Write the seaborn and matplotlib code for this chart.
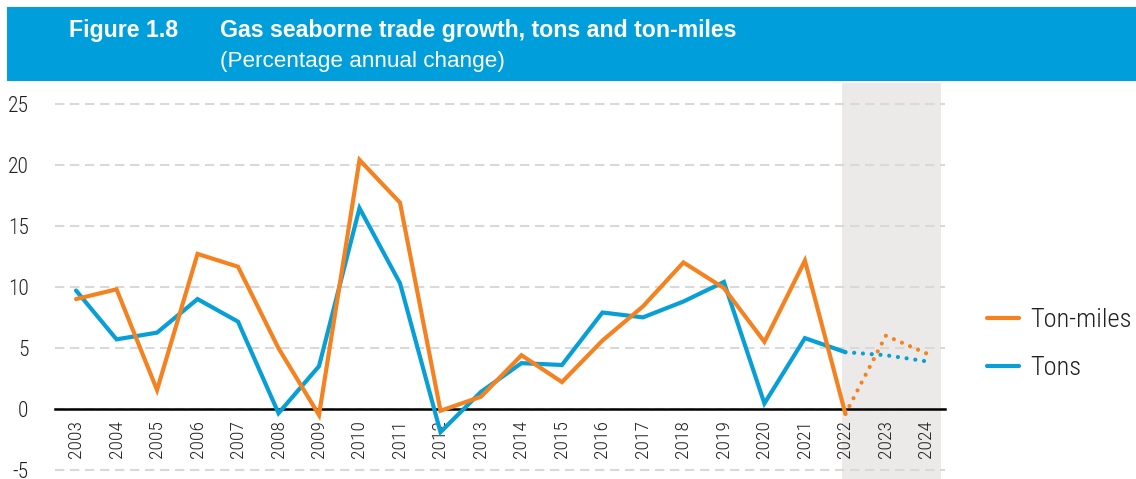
import matplotlib
matplotlib.use("Agg")
import matplotlib.pyplot as plt
import seaborn as sns
import pandas as pd
from matplotlib import font_manager
from matplotlib.lines import Line2D
from matplotlib.patches import Rectangle

# ---------------- data ----------------
years = list(range(2003, 2025))
year_labels = [str(y) for y in years]
tons = [9.7, 5.7, 6.25, 9.0, 7.15, -0.35, 3.5, 16.45, 10.3, -1.9, 1.4,
        3.75, 3.6, 7.9, 7.5, 8.8, 10.4, 0.45, 5.8, 4.65, 4.4, 3.9]
ton_miles = [9.0, 9.8, 1.55, 12.7, 11.65, 4.97, -0.5, 20.4, 16.9, -0.15, 1.0,
             4.4, 2.2, 5.6, 8.4, 12.0, 9.9, 5.5, 12.15, -0.4, 6.0, 4.55]
series_names = ["Ton-miles", "Tons"]
last_actual_year = 2022
y_ticks = [-5, 0, 5, 10, 15, 20, 25]
fig_label = "Figure 1.8"
title = "Gas seaborne trade growth, tons and ton-miles"
subtitle = "(Percentage annual change)"

ORANGE = "#F58220"
BLUE = "#079FD6"
BANNER = "#009EDB"
SHADE = "#EBEAE9"
TEXT = "#231F20"

sns.set_theme(style="white")
names = {f.name for f in font_manager.fontManager.ttflist}
cond = next((n for n in ["Roboto Condensed", "Liberation Sans Narrow", "Arial Narrow"] if n in names), None)
if cond:
    axis_font = cond
    ytick_size, xtick_size, leg_size = 15.5, 14, 19
else:
    axis_font = "Roboto"
    ytick_size, xtick_size, leg_size = 15, 12.5, 17
plt.rcParams["font.family"] = [axis_font, "DejaVu Sans"]
plt.rcParams["font.weight"] = "light"

W, H = 1136, 479
fig = plt.figure(figsize=(W / 100, H / 100), dpi=100)
fig.patch.set_facecolor("white")

# banner
fig.add_artist(Rectangle((7 / W, (H - 81) / H), 1 - 7 / W, 74 / H,
                         transform=fig.transFigure, facecolor=BANNER,
                         edgecolor="none", zorder=0))
fig.text(69 / W, 1 - 37 / H, fig_label, color="white", fontsize=16.7,
         fontweight="bold", family=["Liberation Sans", "DejaVu Sans"], va="baseline")
fig.text(220 / W, 1 - 37 / H, title, color="white", fontsize=16.7,
         fontweight="bold", family=["Liberation Sans", "DejaVu Sans"], va="baseline")
fig.text(220 / W, 1 - 67 / H, subtitle, color="white", fontsize=16.2,
         fontweight="normal", family=["Liberation Sans", "DejaVu Sans"], va="baseline")

ax = fig.add_axes([55 / W, 0, 890 / W, 396 / H])
ax.patch.set_alpha(0)

# spines first (set_position resets tick objects)
for s in ["top", "right", "left"]:
    ax.spines[s].set_visible(False)
ax.spines["bottom"].set_position(("data", 0))
ax.spines["bottom"].set_color("black")
ax.spines["bottom"].set_linewidth(1.8)
ax.spines["bottom"].set_zorder(1.5)

df = pd.DataFrame({"year": years, "Tons": tons, "Ton-miles": ton_miles})
hist = df[df["year"] <= last_actual_year]
proj = df[df["year"] >= last_actual_year]

LW = 3.0
dot_style = (0, (0.01, 2.1))
for name, col in [("Tons", BLUE), ("Ton-miles", ORANGE)]:
    sns.lineplot(data=hist, x="year", y=name, color=col, linewidth=LW, ax=ax,
                 solid_capstyle="round", solid_joinstyle="miter")
    sns.lineplot(data=proj, x="year", y=name, color=col, linewidth=LW, ax=ax)
    ln = ax.lines[-1]
    ln.set_linestyle(dot_style)
    ln.set_dash_capstyle("round")

ax.axvspan(2021.92, 2024.37, color=SHADE, lw=0, zorder=0)

ax.set_xlim(2002.48, 2024.46)
ax.set_ylim(-5.74, 26.7)
ax.set_yticks(y_ticks)
ax.set_yticklabels([str(v) for v in y_ticks])
ax.set_xticks(years)
ax.set_xticklabels(year_labels)
ax.set_xlabel("")
ax.set_ylabel("")

ax.set_axisbelow(True)
ax.grid(axis="y", color="#D9D9D9", linestyle=(0, (4.5, 2.7)), linewidth=1.5)
ax.grid(axis="x", visible=False)

ax.tick_params(axis="y", length=0, pad=19, labelsize=ytick_size, labelcolor=TEXT)
ax.tick_params(axis="x", length=0, pad=8, labelsize=xtick_size, labelcolor=TEXT,
               labelrotation=90)
for lab in ax.get_xticklabels():
    lab.set_va("top")
    lab.set_ha("center")

handles = [Line2D([], [], color=ORANGE, lw=LW, solid_capstyle="round"),
           Line2D([], [], color=BLUE, lw=LW, solid_capstyle="round")]
leg_px = leg_size * 100 / 72
fig.legend(handles, series_names, loc="center left",
           bbox_to_anchor=(987 / W, 1 - 344 / H), frameon=False,
           fontsize=leg_size, handlelength=32 / leg_px, handletextpad=11 / leg_px,
           labelspacing=0.92, borderpad=0, borderaxespad=0, labelcolor=TEXT)

fig.savefig("out.png", dpi=100)
